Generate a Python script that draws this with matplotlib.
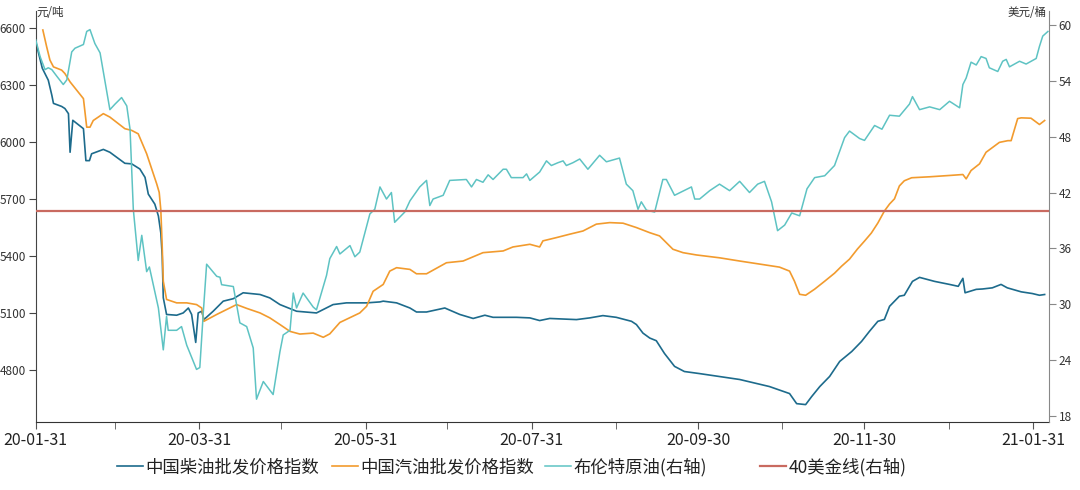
import numpy as np
import pandas as pd
import matplotlib
matplotlib.use("Agg")
import matplotlib.pyplot as plt
import matplotlib.dates as mdates
from matplotlib.ticker import FixedLocator

plt.rcParams['font.family'] = ['Noto Sans CJK SC', 'DejaVu Sans']

# data: x is days after 2020-01-31
base = pd.Timestamp("2020-01-31")

diesel_day = [0, 2.4, 4.6, 5.9, 6.5, 9.5, 10.7, 12.0, 12.6, 13.6, 17.5, 18.4, 19.7, 20.5,
              24.8, 27.2, 32.7, 35.2, 38.2, 40.1, 41.3, 43.7, 45.0, 45.9, 46.4, 46.8, 48.0,
              51.7, 54.1, 56.0, 57.2, 58.7, 59.6, 60.9, 61.7, 65.1, 68.8, 72.5, 76.1, 82.3,
              85.9, 89.6, 95.7, 103.0, 109.1, 114.0, 121.4, 126.3, 127.5, 132.4, 137.3, 139.7,
              143.4, 150.1, 155.6, 160.5, 164.8, 167.8, 176.4, 181.3, 184.9, 188.6, 198.4,
              203.3, 208.1, 213.0, 218.6, 220.4, 222.8, 225.3, 227.7, 230.7, 234.4, 238.0,
              243.6, 258.3, 269.2, 276.6, 279.2, 282.5, 284.7, 287.7, 291.3, 295.0, 299.4,
              303.0, 305.9, 309.0, 311.4, 313.3, 316.9, 318.7, 321.7, 324.3, 329.8, 335.3,
              338.5, 340.2, 341.0, 345.1, 347.4, 351.0, 354.2, 356.5, 361.6, 365.7, 368.3, 370.2]
diesel = [6526, 6387, 6324, 6245, 6202, 6186, 6175, 6148, 5945, 6113, 6069, 5901, 5901, 5937,
          5960, 5945, 5887, 5884, 5857, 5813, 5725, 5672, 5610, 5520, 5400, 5180, 5092,
          5088, 5100, 5126, 5092, 4945, 5100, 5109, 5065, 5109, 5162, 5175, 5206, 5197,
          5179, 5144, 5109, 5100, 5144, 5153, 5153, 5158, 5162, 5153, 5126, 5105,
          5105, 5126, 5092, 5071, 5088, 5077, 5077, 5074, 5060, 5071, 5065,
          5074, 5086, 5077, 5056, 5039, 4994, 4968, 4954, 4887, 4819, 4792,
          4781, 4750, 4713, 4676, 4623, 4618, 4660, 4713, 4766, 4845, 4897,
          4950, 5003, 5056, 5066, 5135, 5188, 5193, 5266, 5287, 5266, 5250,
          5240, 5282, 5206, 5224, 5226, 5232, 5250, 5232, 5211, 5202, 5193, 5197]

gasoline_day = [2.6, 4.0, 5.2, 6.5, 9.5, 10.7, 12.6, 17.5, 18.7, 19.9, 21.1, 24.8, 27.2, 32.7,
                35.2, 37.6, 40.7, 44.4, 45.3, 45.9, 46.4, 46.8, 48.0, 51.7, 55.4, 59.0, 60.9,
                61.7, 66.4, 73.7, 77.4, 82.3, 85.9, 89.6, 93.3, 96.9, 101.8, 105.5, 107.9,
                111.6, 118.9, 121.4, 123.8, 127.5, 129.9, 132.4, 137.3, 139.7, 143.4, 150.7,
                156.8, 164.1, 171.5, 175.1, 181.3, 184.9, 186.1, 191.0, 195.9, 200.8, 205.7,
                210.6, 215.5, 220.4, 225.3, 228.9, 233.8, 237.5, 242.4, 250.9, 258.3, 265.6,
                272.9, 276.6, 278.4, 280.3, 282.5, 285.8, 289.5, 293.1, 295.7, 298.6, 301.5,
                304.1, 306.6, 309.0, 311.4, 313.3, 315.1, 316.9, 318.7, 321.4, 328.0, 335.3,
                340.2, 341.4, 343.2, 346.3, 348.7, 353.6, 356.7, 357.9, 360.3, 361.6, 365.2,
                368.3, 370.2]
gasoline = [6588, 6500, 6430, 6394, 6377, 6359, 6315, 6227, 6077, 6077, 6112, 6148, 6130, 6069,
            6060, 6042, 5937, 5778, 5734, 5640, 5450, 5267, 5171, 5153, 5153, 5144, 5126,
            5056, 5092, 5144, 5124, 5100, 5074, 5039, 5003, 4989, 4994, 4972, 4990,
            5050, 5100, 5135, 5214, 5250, 5320, 5338, 5329, 5306, 5306, 5364,
            5373, 5417, 5426, 5447, 5461, 5447, 5479, 5496, 5514, 5531, 5567,
            5575, 5572, 5549, 5522, 5505, 5435, 5417, 5405, 5390, 5373, 5357,
            5341, 5320, 5267, 5198, 5193, 5225, 5267, 5309, 5346, 5383, 5436,
            5478, 5520, 5573, 5636, 5673, 5700, 5768, 5795, 5811, 5816, 5823,
            5828, 5805, 5849, 5884, 5945, 5997, 6006, 6006, 6122, 6126, 6124,
            6091, 6112]

brent_day = [0, 1.6, 3.4, 4.6, 5.9, 7.7, 10.1, 11.4, 13.2, 14.4, 17.5, 18.7, 19.9, 21.7, 23.6,
             27.2, 29.1, 31.5, 33.4, 34.6, 35.8, 37.6, 38.9, 40.7, 41.7, 45.0, 46.8, 48.0, 48.6,
             51.7, 53.5, 55.4, 59.0, 60.2, 61.5, 62.7, 66.4, 67.6, 68.2, 72.5, 74.9, 77.4, 79.8,
             81.0, 83.5, 87.1, 89.6, 90.8, 93.3, 94.5, 95.7, 98.1, 101.8, 103.0, 106.7, 107.9,
             110.4, 111.6, 115.3, 117.1, 118.9, 122.6, 124.4, 126.3, 128.7, 130.5, 131.7, 135.4,
             137.3, 140.9, 143.4, 144.6, 145.8, 149.5, 151.9, 158.0, 159.9, 161.7, 164.1, 166.0,
             167.8, 171.5, 172.7, 174.5, 178.8, 180.1, 181.3, 184.9, 187.4, 189.2, 191.6, 193.5,
             194.7, 197.1, 199.6, 202.6, 206.9, 209.4, 214.2, 216.7, 219.1, 221.0, 222.2, 224.1,
             227.1, 230.1, 231.4, 234.4, 240.6, 241.8, 243.6, 247.3, 250.9, 254.6, 258.3, 261.9,
             264.9, 267.4, 270.0, 272.2, 274.8, 277.4, 280.3, 283.0, 285.8, 289.5, 293.1, 296.8,
             298.6, 302.3, 304.1, 307.8, 310.5, 313.3, 316.9, 320.6, 321.7, 324.3, 328.0, 331.7,
             335.3, 339.0, 340.2, 341.4, 343.2, 345.1, 346.9, 348.7, 349.9, 353.0, 354.8, 356.1,
             357.3, 361.0, 363.4, 367.1, 368.3, 369.5, 371.4]
brent = [58.4, 56.6, 55.2, 55.4, 55.2, 54.5, 53.6, 54.1, 57.1, 57.5, 57.9, 59.3, 59.5, 58.0, 57.0,
         50.9, 51.5, 52.2, 51.3, 48.8, 40.2, 34.7, 37.4, 33.5, 34.0, 29.6, 25.1, 28.7, 27.2,
         27.2, 27.6, 25.6, 23.0, 23.2, 29.2, 34.3, 33.0, 32.9, 32.1, 31.9, 28.0, 27.6, 25.3,
         19.8, 21.7, 20.3, 24.9, 26.7, 27.2, 31.2, 29.6, 31.2, 29.7, 29.4, 33.1, 34.9,
         36.2, 35.4, 36.3, 35.1, 35.6, 39.7, 40.2, 42.6, 41.3, 42.0, 38.8, 39.9,
         41.1, 42.6, 43.3, 40.6, 41.3, 41.7, 43.3, 43.4, 42.6, 43.4, 43.1, 43.9,
         43.4, 44.5, 44.5, 43.6, 43.6, 44.0, 43.3, 44.2, 45.4, 44.9, 45.2, 45.4,
         44.9, 45.2, 45.6, 44.5, 46.0, 45.3, 45.7, 42.9, 42.2, 40.2, 41.0, 40.1,
         39.9, 43.4, 43.4, 41.7, 42.6, 41.3, 41.3, 42.2, 42.9, 42.2, 43.2, 42.0,
         42.9, 43.2, 41.0, 37.9, 38.5, 39.8, 39.5, 42.4, 43.6, 43.8, 44.9, 47.9,
         48.6, 47.8, 47.6, 49.2, 48.8, 50.3, 50.2, 51.5, 52.3, 50.9, 51.2, 50.9,
         51.8, 51.1, 53.6, 54.3, 56.0, 55.7, 56.6, 56.4, 55.4, 55.0, 56.1, 56.3,
         55.5, 56.1, 55.8, 56.4, 57.7, 58.8, 59.3]

line40 = 40

labels = ["中国柴油批发价格指数", "中国汽油批发价格指数", "布伦特原油(右轴)", "40美金线(右轴)"]
colors = ["#1d6b8c", "#f29b2e", "#5ec3c3", "#c96a60"]

major_ticks = ["2020-01-31", "2020-03-31", "2020-05-31", "2020-07-31",
               "2020-09-30", "2020-11-30", "2021-01-31"]
minor_ticks = ["2020-02-29", "2020-04-30", "2020-06-30", "2020-08-31",
               "2020-10-31", "2020-12-31"]


def to_dates(days):
    return base + pd.to_timedelta(np.array(days), unit="D")


fig = plt.figure(figsize=(10.8, 4.9), dpi=100)
ax = fig.add_axes([0.0331, 0.1382, 0.9382, 0.8394])
ax2 = ax.twinx()

h1, = ax.plot(to_dates(diesel_day), diesel, color=colors[0], lw=1.2)
h2, = ax.plot(to_dates(gasoline_day), gasoline, color=colors[1], lw=1.2)
h3, = ax2.plot(to_dates(brent_day), brent, color=colors[2], lw=1.1)
h4 = ax2.axhline(line40, color=colors[3], lw=1.6)

ax.set_xlim(base, base + pd.Timedelta(days=371.8))
ax.set_ylim(4525, 6688)
ax2.set_ylim(17.32, 61.5)

ax.set_yticks([4800, 5100, 5400, 5700, 6000, 6300, 6600])
ax2.set_yticks([18, 24, 30, 36, 42, 48, 54, 60])

ax.xaxis.set_major_locator(FixedLocator(mdates.date2num(pd.to_datetime(major_ticks))))
ax.xaxis.set_minor_locator(FixedLocator(mdates.date2num(pd.to_datetime(minor_ticks))))
ax.xaxis.set_major_formatter(mdates.DateFormatter("%y-%m-%d"))

for s in ["top", "right"]:
    ax.spines[s].set_visible(False)
for s in ["top", "left", "bottom"]:
    ax2.spines[s].set_visible(False)
ax.spines["left"].set_color("#444444")
ax.spines["bottom"].set_color("#333333")
ax2.spines["right"].set_color("#888888")

ax.tick_params(axis="y", labelsize=8.5, length=5, color="#444444", labelcolor="#333333", pad=2)
ax2.tick_params(axis="y", labelsize=8.5, length=5, color="#888888", labelcolor="#333333", pad=2)
ax.tick_params(axis="x", which="both", labelsize=11.5, length=5, color="#555555",
               labelcolor="#222222", pad=2)

fig.text(36 / 1080, 1 - 12.5 / 490, "元/吨", fontsize=8.3, color="#333333",
         ha="left", va="center")
fig.text(1047 / 1080, 1 - 13 / 490, "美元/桶", fontsize=8.3, color="#333333",
         ha="right", va="center")

leg_x = [117, 332, 545, 760]
for h, lab, lx in zip([h1, h2, h3, h4], labels, leg_x):
    fig.legend(handles=[h], labels=[lab], loc="center left",
               bbox_to_anchor=(lx / 1080, 1 - 467 / 490), frameon=False,
               fontsize=12.5, handlelength=1.5, handletextpad=0.15,
               borderpad=0, borderaxespad=0, labelcolor="#222222")

fig.savefig("out.png", dpi=100)
